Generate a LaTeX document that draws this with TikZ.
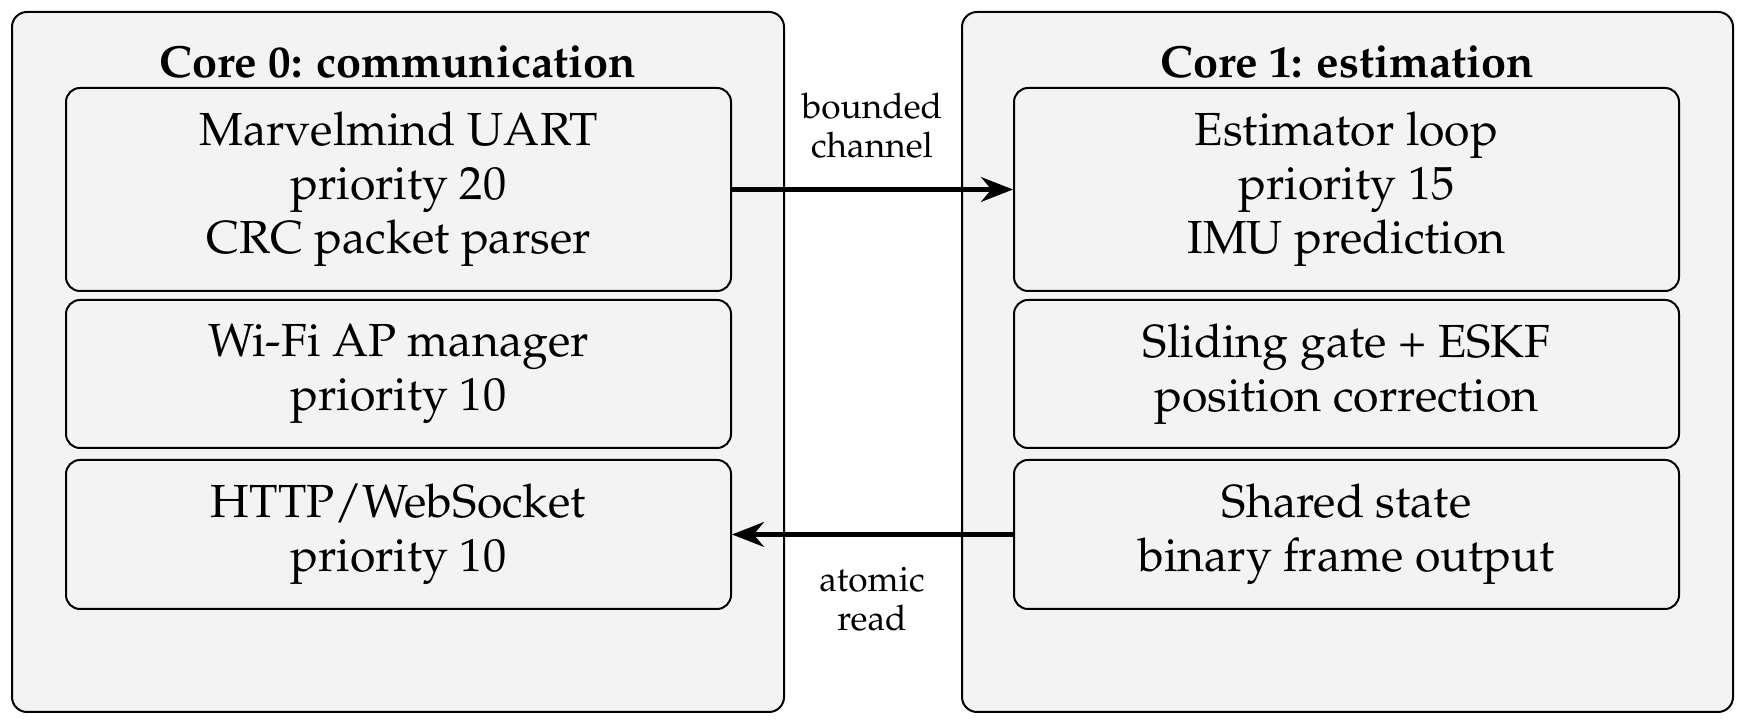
\documentclass[tikz,border=0pt]{standalone}
\usepackage[T1]{fontenc}
\usepackage{mathpazo}
\usetikzlibrary{arrows.meta}
\definecolor{boxgray}{HTML}{F3F3F3}
\begin{document}
\begin{tikzpicture}[x=0.25pt,y=-0.25pt,
  corebox/.style={draw=black, fill=boxgray, rounded corners=3.75pt, line width=0.5pt, inner sep=0pt},
  taskbox/.style={draw=black, fill=boxgray, rounded corners=3.5pt, line width=0.5pt, inner sep=0pt,
    minimum width=166.25pt, align=center, font=\fontsize{11.6}{13.5}\selectfont},
  titletext/.style={font=\fontsize{11.25}{13}\selectfont\bfseries, inner sep=0pt},
  lbl/.style={font=\fontsize{8.8}{9.8}\selectfont, align=center, inner sep=0pt},
  conn/.style={-{Stealth[length=8pt,width=6.2pt,inset=2.6pt]}, line width=1.05pt}]
\useasboundingbox (0,0) rectangle (1744,723);
\fill[white] (0,0) rectangle (1744,723);
% cores
\node[corebox, minimum width=193pt, minimum height=175pt] (core0) at (398,362) {};
\node[corebox, minimum width=192.75pt, minimum height=175pt] (core1) at (1347.5,362) {};
\node[titletext] (t0) at (398,62) {Core 0: communication};
\node[titletext] (t1) at (1347.5,62) {Core 1: estimation};
% left tasks
\node[taskbox, minimum height=50.75pt] (uart) at (398.5,189.5) {Marvelmind UART\\priority 20\\CRC packet parser};
\node[taskbox, minimum height=37pt] (wifi) at (398.5,374) {Wi-Fi AP manager\\priority 10};
\node[taskbox, minimum height=37.25pt] (http) at (398.5,534.5) {HTTP/WebSocket\\priority 10};
% right tasks
\node[taskbox, minimum height=50.75pt] (est) at (1346.5,189.5) {Estimator loop\\priority 15\\IMU prediction};
\node[taskbox, minimum height=37pt] (eskf) at (1346.5,374) {Sliding gate + ESKF\\position correction};
\node[taskbox, minimum height=37.25pt] (shared) at (1346.5,534.5) {Shared state\\binary frame output};
% connectors
\draw[conn] (uart.east) -- (est.west);
\draw[conn] (shared.west) -- (http.east);
\node[lbl] (l1) at (872,126) {bounded\\channel};
\node[lbl] (l2) at (872,599) {atomic\\read};
\end{tikzpicture}
\end{document}
